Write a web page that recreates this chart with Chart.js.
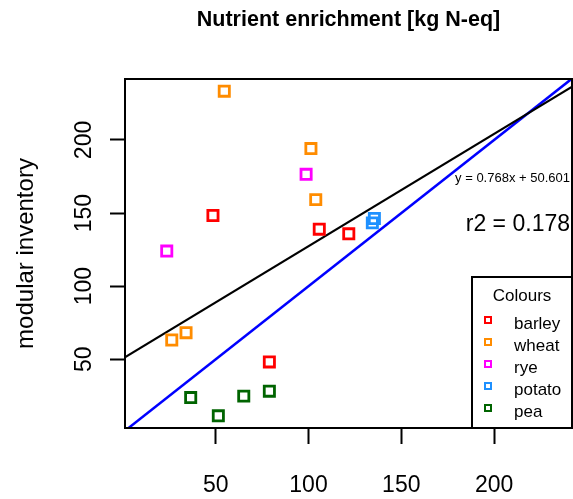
<!DOCTYPE html>
<html>
<head>
<meta charset="utf-8">
<script src="https://cdn.jsdelivr.net/npm/chart.js@4"></script>
<style>
  html, body { margin: 0; padding: 0; background: #fff; }
  canvas { display: block; }
</style>
</head>
<body>
<canvas id="chart" width="573" height="499"></canvas>
<script>
// nutrient enrichment (x) vs modular inventory (y), per crop
const seriesNames = ['barley', 'wheat', 'rye', 'potato', 'pea'];
const seriesColors = ['#ff0000', '#ff8c00', '#ff00ff', '#1e90ff', '#006400'];

const barleyX = [48.5, 105.8, 121.7, 78.9];
const barleyY = [148.3, 139.0, 135.8, 48.2];
const wheatX = [54.6, 101.3, 103.9, 34.0, 26.3];
const wheatY = [233.4, 194.1, 159.2, 68.2, 63.2];
const ryeX = [98.7, 23.6];
const ryeY = [176.5, 124.0];
const potatoX = [135.5, 134.4];
const potatoY = [146.3, 143.3];
const peaX = [36.5, 65.1, 78.9, 51.4];
const peaY = [23.8, 24.8, 28.2, 11.3];

const xTicks = [50, 100, 150, 200];
const yTicks = [50, 100, 150, 200];

// linear fit and 1:1 reference
const fitSlope = 0.768;
const fitIntercept = 50.601;
const fitR2 = 0.178;
const lineX = [0, 250];

const FONT = '"Liberation Sans", Arial, Helvetica, sans-serif';
Chart.defaults.font.family = FONT;
Chart.defaults.color = '#000';

const seriesX = [barleyX, wheatX, ryeX, potatoX, peaX];
const seriesY = [barleyY, wheatY, ryeY, potatoY, peaY];

const pointSets = seriesNames.map((name, i) => ({
    label: name,
    data: seriesX[i].map((x, j) => ({ x: x, y: seriesY[i][j] })),
    borderColor: seriesColors[i],
    backgroundColor: 'rgba(0,0,0,0)',
    pointStyle: 'rect',
    pointRadius: 7.2,
    pointBorderWidth: 2.8,
    showLine: false
}));

const fitLine = {
    label: 'fit',
    data: lineX.map(x => ({ x: x, y: fitSlope * x + fitIntercept })),
    showLine: true,
    borderColor: '#000',
    borderWidth: 2.2,
    pointRadius: 0,
    clip: 0
};

const oneToOne = {
    label: '1:1',
    data: lineX.map(x => ({ x: x, y: x })),
    showLine: true,
    borderColor: '#0000ff',
    borderWidth: 2.5,
    pointRadius: 0,
    clip: 0
};

// no extra room for edge tick labels, keep the plot box fixed
function fixBox(size) {
    return s => {
        if (s.isHorizontal()) s.height = size; else s.width = size;
        s.paddingLeft = s.paddingRight = s.paddingTop = s.paddingBottom = 0;
    };
}

// frame, fit text and the colour key
const frameAndKey = {
    id: 'frameAndKey',
    afterDatasetsDraw(chart) {
        const { ctx, chartArea: a } = chart;
        ctx.save();
        ctx.strokeStyle = '#000';
        ctx.lineWidth = 2;
        ctx.strokeRect(a.left, a.top, a.right - a.left, a.bottom - a.top);

        ctx.fillStyle = '#000';
        ctx.textAlign = 'right';
        ctx.textBaseline = 'middle';
        ctx.font = '13px ' + FONT;
        ctx.fillText('y = ' + fitSlope + 'x + ' + fitIntercept, a.right - 2, a.top + 99);
        ctx.font = '23px ' + FONT;
        ctx.fillText('r2 = ' + fitR2, a.right - 2, a.top + 146);

        const w = 100, h = 151;
        const left = a.right - w, top = a.bottom - h;
        ctx.fillStyle = '#fff';
        ctx.fillRect(left, top, w, h);
        ctx.strokeRect(left, top, w, h);

        ctx.fillStyle = '#000';
        ctx.textAlign = 'center';
        ctx.font = '17px ' + FONT;
        ctx.fillText('Colours', left + 50, top + 19);

        ctx.textAlign = 'left';
        pointSets.forEach((ds, i) => {
            const y = top + 43 + i * 22;
            ctx.strokeStyle = ds.borderColor;
            ctx.lineWidth = 2;
            ctx.strokeRect(left + 13, y - 3, 6, 6);
            ctx.fillStyle = '#000';
            ctx.fillText(ds.label, left + 42, y + 4);
        });
        ctx.restore();
    }
};

new Chart(document.getElementById('chart'), {
    type: 'scatter',
    data: {
        datasets: [...pointSets, fitLine, oneToOne]
    },
    options: {
        responsive: false,
        animation: false,
        devicePixelRatio: 1,
        events: [],
        layout: {
            autoPadding: false,
            padding: { top: 0, right: 1, bottom: 0, left: 0 }
        },
        scales: {
            x: {
                type: 'linear',
                min: 1.1,
                max: 242,
                afterBuildTicks: s => { s.ticks = xTicks.map(v => ({ value: v })); },
                afterFit: fixBox(71),
                grid: {
                    drawOnChartArea: false,
                    drawTicks: true,
                    tickLength: 16,
                    tickWidth: 2,
                    tickColor: '#000'
                },
                border: { display: false },
                ticks: {
                    autoSkip: false,
                    maxRotation: 0,
                    padding: 28,
                    color: '#000',
                    font: { size: 23 }
                }
            },
            y: {
                type: 'linear',
                min: 3,
                max: 241.7,
                afterBuildTicks: s => { s.ticks = yTicks.map(v => ({ value: v })); },
                afterFit: fixBox(125),
                grid: {
                    drawOnChartArea: false,
                    drawTicks: true,
                    tickLength: 15,
                    tickWidth: 2,
                    tickColor: '#000'
                },
                border: { display: false },
                ticks: {
                    autoSkip: false,
                    minRotation: 90,
                    maxRotation: 90,
                    crossAlign: 'center',
                    padding: 6,
                    color: '#000',
                    font: { size: 23 }
                },
                title: {
                    display: true,
                    text: 'modular inventory',
                    color: '#000',
                    padding: { top: 12, bottom: 0 },
                    font: { size: 24 }
                }
            }
        },
        plugins: {
            legend: { display: false },
            tooltip: { enabled: false },
            title: {
                display: true,
                fullSize: false,
                text: 'Nutrient enrichment [kg N-eq]',
                color: '#000',
                font: { size: 21.5, weight: 'bold' },
                padding: { top: 7, bottom: 46.2 }
            }
        }
    },
    plugins: [frameAndKey]
});
</script>
</body>
</html>
